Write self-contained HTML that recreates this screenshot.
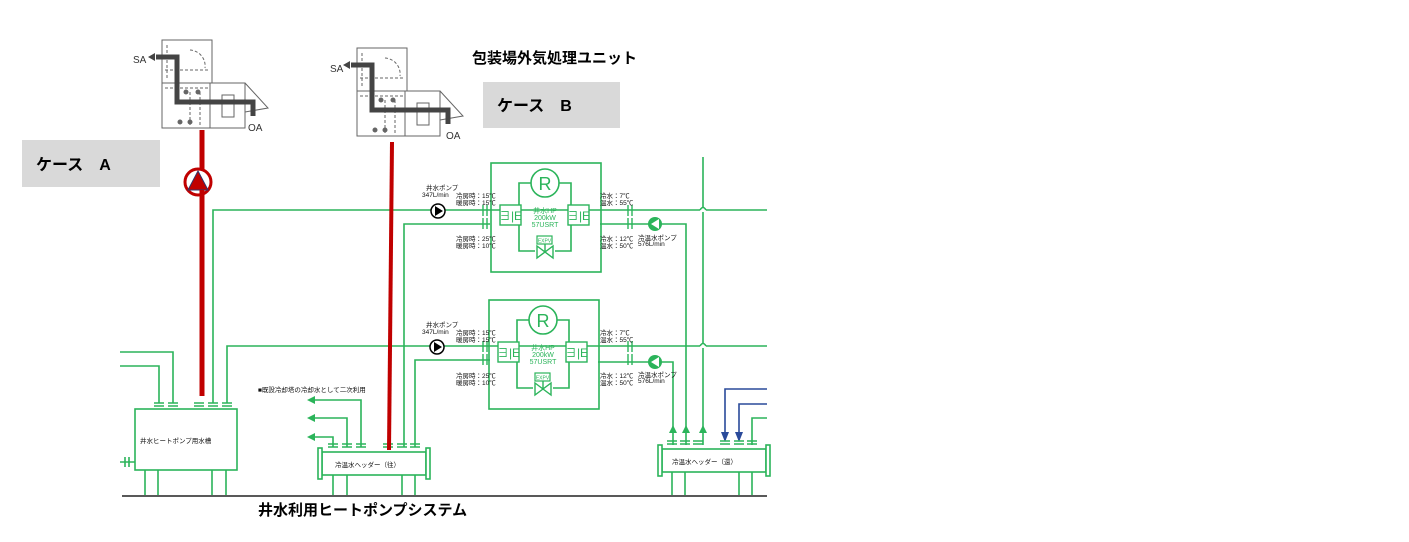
<!DOCTYPE html>
<html><head><meta charset="utf-8"><style>
html,body{margin:0;padding:0;background:#fff;width:1409px;height:542px;overflow:hidden}
svg{display:block}
text{font-family:"Liberation Sans","Noto Sans CJK JP",sans-serif}
</style></head><body>
<svg width="1409" height="542" viewBox="0 0 1409 542" xmlns="http://www.w3.org/2000/svg">
<defs>
<g id="hp">
 <rect x="0" y="0" width="110" height="109" fill="none" stroke="#2bb45a" stroke-width="1.6"/>
 <circle cx="54" cy="20" r="14" fill="none" stroke="#2bb45a" stroke-width="1.6"/>
 <text x="54" y="27" font-size="18" fill="#2bb45a" text-anchor="middle">R</text>
 <path d="M40 20 H28 V88 H44 M64 88 H80 V20 H68" fill="none" stroke="#2bb45a" stroke-width="1.6"/>
 <rect x="9" y="42" width="21" height="20" fill="#fff" stroke="#2bb45a" stroke-width="1.4"/>
 <rect x="77" y="42" width="21" height="20" fill="#fff" stroke="#2bb45a" stroke-width="1.4"/>
 <text x="19.5" y="57" font-size="12" fill="#2bb45a" text-anchor="middle">∃|E</text>
 <text x="87.5" y="57" font-size="12" fill="#2bb45a" text-anchor="middle">∃|E</text>
 <text x="54" y="50" font-size="7" fill="#2bb45a" text-anchor="middle">井水HP</text>
 <text x="54" y="57" font-size="7" fill="#2bb45a" text-anchor="middle">200kW</text>
 <text x="54" y="64" font-size="7" fill="#2bb45a" text-anchor="middle">57USRT</text>
 <rect x="46" y="73" width="15" height="8" fill="#fff" stroke="#2bb45a" stroke-width="1.2"/>
 <text x="53.5" y="79.5" font-size="5" fill="#2bb45a" text-anchor="middle">EXPV</text>
 <path d="M46 83 L62 95 V83 L46 95 Z M54 81 V89" fill="none" stroke="#2bb45a" stroke-width="1.4"/>
</g>
<g id="ahu" fill="none" stroke="#666" stroke-width="1">
 <rect x="2" y="0" width="50" height="43" fill="#fff"/>
 <rect x="2" y="43" width="48" height="45"/>
 <rect x="50" y="43" width="35" height="45"/>
 <path d="M85 43 L108 68 L85 72" />
 <path d="M2 88 H85"/>
 <path d="M7 5 V40 M30 10 A16 16 0 0 1 45 28 M5 30 H50 M5 48 H50 M30 52 V85 M40 52 V85" stroke-dasharray="3 2"/>
 <rect x="62" y="55" width="12" height="22"/>
 <circle cx="26" cy="52" r="2" fill="#666"/><circle cx="38" cy="52" r="2" fill="#666"/>
 <circle cx="20" cy="82" r="2" fill="#666"/><circle cx="30" cy="82" r="2" fill="#666"/>
 <path d="M-4 17 H17 V62 H93 V76" stroke="#444" stroke-width="5"/>
</g>
</defs>

<!-- labels -->
<rect x="22" y="140" width="138" height="47" fill="#d9d9d9"/>
<text x="36" y="170" font-size="16" font-weight="bold" fill="#000">ケース　A</text>
<rect x="483" y="82" width="137" height="46" fill="#d9d9d9"/>
<text x="497" y="111" font-size="16" font-weight="bold" fill="#000">ケース　B</text>
<text x="472" y="63" font-size="15" font-weight="bold" fill="#000">包装場外気処理ユニット</text>
<text x="258" y="515" font-size="15" font-weight="bold" fill="#000">井水利用ヒートポンプシステム</text>

<!-- AHUs -->
<use href="#ahu" x="160" y="40"/>
<polygon points="148,57 155,53 155,61" fill="#444"/>
<text x="133" y="63" font-size="10" fill="#333">SA</text>
<text x="248" y="131" font-size="10" fill="#333">OA</text>
<use href="#ahu" x="355" y="48"/>
<polygon points="343,65 350,61 350,69" fill="#444"/>
<text x="330" y="72" font-size="10" fill="#333">SA</text>
<text x="446" y="139" font-size="10" fill="#333">OA</text>

<g fill="none" stroke="#2bb45a" stroke-width="1.6">
 <path d="M120 352 H173 V403 M120 366 H159 V403"/>
 <path d="M213 403 V210 H700 M706 210 H767"/>
 <path d="M700 210 Q703 205 706 210"/>
 <path d="M227 403 V346 H700 M706 346 H767"/>
 <path d="M700 346 Q703 341 706 346"/>
 <path d="M703 157 V208 M703 212 V344 M703 348 V445"/>
 <rect x="135" y="409" width="102" height="61" fill="#fff"/>
 <path d="M145 470 V495 M158 470 V495 M212 470 V495 M226 470 V495"/>
 <path d="M120 462 H135 M125 457 V467 M129 457 V467"/>
 <path d="M404 447 V224 H490 M415 447 V360 H490"/>
 <path d="M333 447 V437 H312 M347 447 V418 H312 M361 447 V400 H312"/>
 <rect x="322" y="452" width="104" height="23" fill="#fff"/>
 <rect x="318" y="448" width="4" height="31" fill="#fff"/>
 <rect x="426" y="448" width="4" height="31" fill="#fff"/>
 <path d="M333 475 V495 M347 475 V495 M402 475 V495 M415 475 V495"/>
 <path d="M600 224 H686 V445 M598 362 H673 V445"/>
 <path d="M752 445 V418 H767"/>
 <rect x="662" y="449" width="104" height="23" fill="#fff"/>
 <rect x="658" y="445" width="4" height="31" fill="#fff"/>
 <rect x="766" y="445" width="4" height="31" fill="#fff"/>
 <path d="M672 472 V495 M685 472 V495 M739 472 V495 M752 472 V495"/>
</g>
<g fill="#2bb45a">
 <polygon points="307,437 315,433 315,441"/><polygon points="307,418 315,414 315,422"/><polygon points="307,400 315,396 315,404"/>
 <polygon points="673,425 669,433 677,433"/><polygon points="686,425 682,433 690,433"/><polygon points="703,425 699,433 707,433"/>
</g>
<g fill="none" stroke="#2a4a9a" stroke-width="1.6">
 <path d="M767 389 H725 V440 M767 404 H739 V440"/>
</g>
<g fill="#2a4a9a"><polygon points="725,442 721,432 729,432"/><polygon points="739,442 735,432 743,432"/></g>

<g stroke="#2bb45a" stroke-width="1.4">
 <path d="M154 403 H164 M154 406 H164 M168 403 H178 M168 406 H178 M194 403 H204 M194 406 H204 M208 403 H218 M208 406 H218 M222 403 H232 M222 406 H232"/>
 <path d="M328 444 H338 M328 447 H338 M342 444 H352 M342 447 H352 M356 444 H366 M356 447 H366 M383 444 H393 M383 447 H393 M397 444 H407 M397 447 H407 M410 444 H420 M410 447 H420"/>
 <path d="M667 441 H677 M667 444 H677 M680 441 H690 M680 444 H690 M693 441 H703 M693 444 H703 M720 441 H730 M720 444 H730 M734 441 H744 M734 444 H744 M747 441 H757 M747 444 H757"/>
 <path d="M483 205 V216 M487 205 V216 M483 218 V229 M487 218 V229 M628 205 V216 M632 205 V216 M628 218 V229 M632 218 V229"/>
 <path d="M483 341 V352 M487 341 V352 M483 354 V365 M487 354 V365 M628 341 V352 M632 341 V352 M628 354 V365 M632 354 V365"/>
</g>

<use href="#hp" x="491" y="163"/>
<use href="#hp" x="489" y="300"/>

<circle cx="438" cy="211" r="7" fill="#fff" stroke="#000" stroke-width="1.5"/><polygon points="435,206 443,211 435,216" fill="#000"/>
<circle cx="437" cy="347" r="7" fill="#fff" stroke="#000" stroke-width="1.5"/><polygon points="434,342 442,347 434,352" fill="#000"/>
<circle cx="655" cy="224" r="7" fill="#2bb45a"/><polygon points="659,219 651,224 659,229" fill="#fff"/>
<circle cx="655" cy="362" r="7" fill="#2bb45a"/><polygon points="659,357 651,362 659,367" fill="#fff"/>

<g font-size="6.5" fill="#111">
 <text x="426" y="190">井水ポンプ</text><text x="422" y="197">347L/min</text>
 <text x="456" y="198">冷房時：15℃</text><text x="456" y="205">暖房時：15℃</text>
 <text x="456" y="241">冷房時：25℃</text><text x="456" y="248">暖房時：10℃</text>
 <text x="600" y="198">冷水：7℃</text><text x="600" y="205">温水：55℃</text>
 <text x="600" y="241">冷水：12℃</text><text x="600" y="248">温水：50℃</text>
 <text x="638" y="240">冷温水ポンプ</text><text x="638" y="246">576L/min</text>
 <text x="426" y="327">井水ポンプ</text><text x="422" y="334">347L/min</text>
 <text x="456" y="335">冷房時：15℃</text><text x="456" y="342">暖房時：15℃</text>
 <text x="456" y="378">冷房時：25℃</text><text x="456" y="385">暖房時：10℃</text>
 <text x="600" y="335">冷水：7℃</text><text x="600" y="342">温水：55℃</text>
 <text x="600" y="378">冷水：12℃</text><text x="600" y="385">温水：50℃</text>
 <text x="638" y="377">冷温水ポンプ</text><text x="638" y="383">576L/min</text>
 <text x="258" y="392">■既設冷却塔の冷却水として二次利用</text>
 <text x="140" y="443">井水ヒートポンプ用水槽</text>
 <text x="335" y="467">冷温水ヘッダー（往）</text>
 <text x="672" y="464">冷温水ヘッダー（還）</text>
</g>

<line x1="202" y1="130" x2="202" y2="396" stroke="#c00000" stroke-width="5"/>
<circle cx="198" cy="182" r="13" fill="#fff" stroke="#c00000" stroke-width="3"/>
<polygon points="198,171 188,190 208,190" fill="#c00000" stroke="#33336a" stroke-width="1"/>
<line x1="202" y1="190" x2="202" y2="196" stroke="#c00000" stroke-width="5"/>
<line x1="392" y1="142" x2="389" y2="450" stroke="#c00000" stroke-width="4"/>

<line x1="122" y1="496" x2="767" y2="496" stroke="#222" stroke-width="1.5"/>
</svg>
</body></html>
